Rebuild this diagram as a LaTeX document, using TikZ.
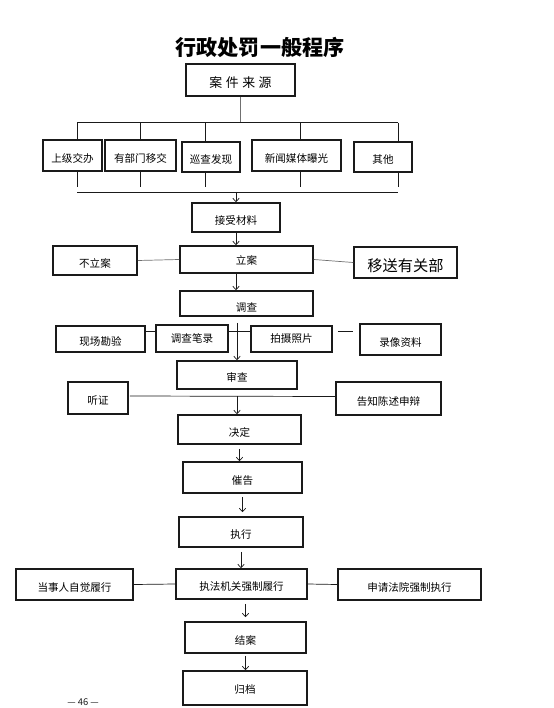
\documentclass[tikz,border=0pt]{standalone}
\usepackage{fontspec}
\setmainfont{Noto Sans CJK SC}
\usetikzlibrary{arrows.meta,calc}
\definecolor{ink}{HTML}{1A1A1A}
\definecolor{wire}{HTML}{707070}

\begin{document}
\begin{tikzpicture}[x=0.3mm,y=-0.3mm,
  box/.style 2 args={draw=ink,line width=1.3pt,minimum width=#1*0.3mm,minimum height=#2*0.3mm,inner sep=0pt,text height=4mm,text depth=0pt,font=\fontsize{9pt}{10pt}\selectfont},
  level/.style={text height=2.2mm},
  link/.style={ink,line width=0.6pt},
  arr/.style={link,-{Straight Barb[length=3pt,width=5.5pt]}}]
\useasboundingbox (0,0) rectangle (554,708);
\node[font=\fontsize{18pt}{20pt}\selectfont\bfseries] (title) at (260,47) {行政处罚一般程序};
\node[box={109}{32},font=\fontsize{11pt}{12pt}\selectfont,text height=4.4mm] (yuan) at (240.5,80) {案\hspace{3pt}件\hspace{3pt}来\hspace{3pt}源};
\node[box={59}{31}] (sj) at (72.5,155.5) {上级交办};
\node[box={71}{31}] (bm) at (140.5,155.5) {有部门移交};
\node[box={58}{30}] (xc) at (211,157) {巡查发现};
\node[box={89}{31}] (xw) at (296.5,155.5) {新闻媒体曝光};
\node[box={58}{30}] (qt) at (383,157) {其他};
\coordinate (tl) at (77,122.7); \coordinate (tr) at (398,122.7);
\coordinate (bl) at (77,192); \coordinate (br) at (398,192); \coordinate (bmid) at (236,192);
\draw[wire,line width=0.6pt] (yuan.south) -- (yuan.south |- tl);
\draw[link] (tl) -- (tr); \draw[link] (bl) -- (br);
\foreach \n/\x in {sj/77,bm/140,xc/205,xw/300,qt/398}{
  \coordinate (up\n) at (\x,122.7); \coordinate (dn\n) at (\x,187);
  \draw[link] (up\n) -- (up\n |- \n.north);
  \draw[link] (dn\n |- \n.south) -- (dn\n);
}
\node[box={88}{29}] (jscl) at (236,217.5) {接受材料};
\draw[arr] (bmid) -- (bmid |- jscl.north);
\node[box={133}{27},text height=3mm] (lian) at (246.5,259.5) {立案};
\node[box={84}{29}] (bulian) at (95,260.5) {不立案};
\node[box={103}{31},font=\fontsize{13pt}{14pt}\selectfont,text height=5.2mm] (yisong) at (405.5,262.5) {移送有关部};
\draw[arr] (jscl.south) -- (jscl.south |- lian.north);
\draw[wire,line width=0.6pt] (bulian.east) -- (lian.west);
\draw[wire,line width=0.6pt] (lian.east) -- (yisong.west);
\node[box={133}{25},text height=4.6mm] (diaocha) at (246.5,303.5) {调查};
\draw[arr] (jscl.south |- lian.south) -- (jscl.south |- diaocha.north);
\coordinate (row) at (0,331);
\node[box={89}{26}] (kanyan) at (100.5,339) {现场勘验};
\node[box={72}{27},level] (bilu) at (192,338.5) {调查笔录};
\node[box={81}{26},level] (paishe) at (291.5,339) {拍摄照片};
\node[box={81}{31}] (luxiang) at (400.5,339.5) {录像资料};
\draw[link] (kanyan.east |- row) -- (bilu.west |- row);
\draw[link] (bilu.east |- row) -- (paishe.west |- row);
\draw[link] ([xshift=1.5mm]paishe.east |- row) -- ([xshift=-1.8mm]luxiang.west |- row);
\node[box={120}{28}] (shencha) at (237,375) {审查};
\draw[arr] ([yshift=-1.8mm]shencha.north |- diaocha.south) -- (shencha.north);
\node[box={60}{32}] (tingzheng) at (98,398) {听证};
\node[box={105}{33}] (gaozhi) at (388.5,398.5) {告知陈述申辩};
\draw[link] ([xshift=0.3mm,yshift=0.6mm]tingzheng.east) -- ([yshift=0.6mm]gaozhi.west);
\node[box={123}{29}] (jueding) at (239.5,429.5) {决定};
\draw[arr] ([yshift=0.6mm]shencha.south |- tingzheng.east) -- (shencha.south |- jueding.north);
\node[box={119}{31}] (cuigao) at (242.5,477.5) {催告};
\draw[arr] ([yshift=-1.2mm]jueding.south) -- (jueding.south |- cuigao.north);
\node[box={124}{30}] (zhixing) at (241,532) {执行};
\draw[arr] ([yshift=-0.9mm]cuigao.south) -- ([yshift=1.2mm]cuigao.south |- zhixing.north);
\node[box={131}{30}] (qiangzhi) at (241.5,584) {执法机关强制履行};
\node[box={117}{31}] (zijue) at (74.5,584.5) {当事人自觉履行};
\node[box={143}{31}] (fayuan) at (409.5,584.5) {申请法院强制执行};
\draw[arr] ([yshift=-1.2mm]zhixing.south) -- (zhixing.south |- qiangzhi.north);
\draw[link] (zijue.east) -- (qiangzhi.west);
\draw[link] (qiangzhi.east) -- (fayuan.west);
\node[box={121}{31}] (jiean) at (245.5,637.5) {结案};
\draw[arr] ([yshift=-1.2mm]jiean.north |- qiangzhi.south) -- ([yshift=1.2mm]jiean.north);
\node[box={124}{34},text height=3.4mm] (guidang) at (245,688) {归档};
\draw[arr] ([yshift=-0.6mm]jiean.south) -- (jiean.south |- guidang.north);
\node[font=\fontsize{8pt}{9pt}\selectfont,text=ink,inner sep=0pt] (yema) at (83,702) {— 46 —};
\end{tikzpicture}
\end{document}
